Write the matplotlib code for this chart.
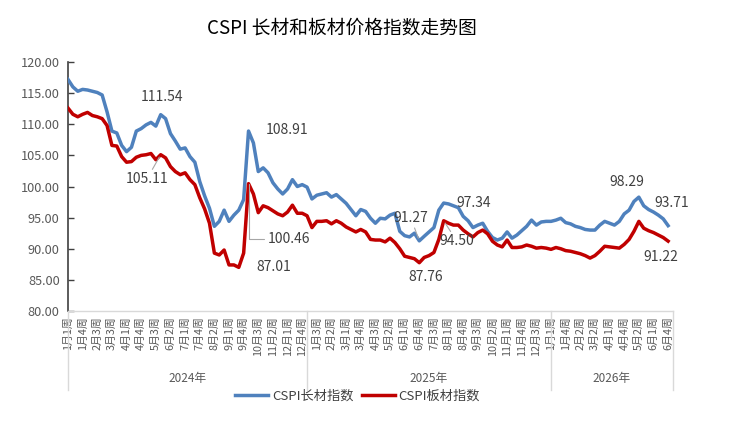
import matplotlib
matplotlib.use('Agg')
import matplotlib.pyplot as plt
from matplotlib.ticker import FormatStrFormatter
from matplotlib.lines import Line2D

plt.rcParams['font.family'] = ['Noto Sans CJK SC', 'DejaVu Sans']

# ---------------- data ----------------
long_index = [
    117.2, 116.0, 115.3, 115.6, 115.5, 115.3, 115.1, 114.7, 112.0, 108.9,
    108.6, 106.6, 105.6, 106.3, 108.9, 109.3, 109.9, 110.3, 109.7, 111.54,
    110.9, 108.5, 107.3, 106.0, 106.2, 104.8, 103.9, 100.8, 98.5, 96.5,
    93.6, 94.4, 96.2, 94.4, 95.4, 96.2, 97.9, 108.91, 107.0, 102.4,
    103.0, 102.2, 100.6, 99.6, 98.8, 99.6, 101.1, 100.0, 100.3, 99.9,
    98.0, 98.6, 98.8, 99.0, 98.3, 98.7, 98.0, 97.3, 96.3, 95.3,
    96.3, 96.0, 94.9, 94.1, 94.9, 94.8, 95.4, 95.7, 92.8, 92.1,
    91.9, 92.5, 91.27, 92.0, 92.7, 93.4, 96.2, 97.34, 97.2, 96.9,
    96.6, 95.2, 94.5, 93.4, 93.8, 94.1, 92.8, 91.8, 91.4, 91.7,
    92.7, 91.7, 92.2, 92.9, 93.6, 94.6, 93.8, 94.3, 94.4, 94.4,
    94.6, 94.9, 94.2, 94.0, 93.6, 93.4, 93.1, 93.0, 93.0, 93.8,
    94.4, 94.1, 93.8, 94.4, 95.6, 96.2, 97.6, 98.29, 96.9, 96.3,
    95.9, 95.4, 94.8, 93.71,
]
plate_index = [
    112.6, 111.6, 111.2, 111.6, 111.9, 111.4, 111.2, 110.9, 109.8, 106.6,
    106.5, 104.8, 103.9, 104.0, 104.7, 105.0, 105.1, 105.3, 104.3, 105.11,
    104.6, 103.2, 102.4, 101.9, 102.2, 101.1, 100.3, 98.2, 96.4, 94.1,
    89.3, 89.0, 89.8, 87.4, 87.4, 87.01, 89.3, 100.46, 98.8, 95.8,
    96.9, 96.6, 96.1, 95.6, 95.3, 95.9, 97.0, 95.7, 95.7, 95.3,
    93.4, 94.4, 94.4, 94.5, 94.0, 94.5, 94.1, 93.5, 93.1, 92.7,
    93.1, 92.7, 91.5, 91.4, 91.4, 91.1, 91.7, 91.0, 90.0, 88.8,
    88.6, 88.4, 87.76, 88.6, 88.9, 89.4, 91.5, 94.50, 94.1, 93.8,
    93.8, 93.0, 92.4, 91.9, 92.6, 93.0, 92.4, 91.2, 90.6, 90.3,
    91.4, 90.2, 90.2, 90.3, 90.6, 90.4, 90.1, 90.2, 90.1, 89.9,
    90.2, 90.0, 89.7, 89.6, 89.4, 89.2, 88.9, 88.5, 88.9, 89.6,
    90.4, 90.3, 90.2, 90.1, 90.7, 91.5, 92.8, 94.4, 93.3, 92.9,
    92.6, 92.2, 91.8, 91.22,
]
tick_labels = [
    '1月1周', '1月4周', '2月3周', '3月3周', '4月1周', '4月4周', '5月3周', '6月2周',
    '7月1周', '7月4周', '8月2周', '9月1周', '9月4周', '10月3周', '11月2周', '12月1周',
    '12月4周',
    '1月3周', '2月2周', '3月1周', '3月4周', '4月3周', '5月2周', '6月1周', '6月4周',
    '7月3周', '8月1周', '8月4周', '9月3周', '10月2周', '11月1周', '11月4周', '12月3周',
    '1月1周', '1月4周', '2月2周', '3月2周', '4月1周', '4月4周', '5月2周', '6月1周',
    '6月4周',
]
years = ['2024年', '2025年', '2026年']
year_weeks = [49, 50, 25]
series_names = ['CSPI长材指数', 'CSPI板材指数']

# annotated points: (series, index, offset x pt, offset y pt, leader)
notes = [
    ('long', 19, 0.7, 12.6, None),
    ('plate', 19, -10, -17.6, 'line'),
    ('long', 37, 28, 0.7, None),
    ('plate', 37, 29.5, -39.6, 'angle'),
    ('plate', 35, 25.5, 0, None),
    ('long', 72, -6, 16.3, 'line'),
    ('long', 77, 21.7, 0, None),
    ('plate', 77, 9.5, -14.8, 'line'),
    ('plate', 72, 4.8, -10.5, None),
    ('long', 117, -8.6, 10.8, None),
    ('long', 123, 2.9, 16, None),
    ('plate', 123, -5, -11.5, None),
]

BLUE = '#4F81BD'
RED = '#C00000'
TXT = '#404040'
GREY = '#595959'

fig = plt.figure(figsize=(7.33, 4.26), dpi=100)
ax = fig.add_axes([68 / 733, 1 - 311 / 426, 605 / 733, 249 / 426])

x = list(range(len(long_index)))
ax.plot(x, long_index, color=BLUE, lw=2.5, solid_joinstyle='round', zorder=3)
ax.plot(x, plate_index, color=RED, lw=2.5, solid_joinstyle='round', zorder=3)

n = len(long_index)
ax.set_xlim(0, sum(year_weeks))
ax.set_ylim(80, 120)
ax.set_yticks(range(80, 121, 5))
ax.yaxis.set_major_formatter(FormatStrFormatter('%.2f'))
ax.tick_params(axis='y', direction='in', length=4, width=1, color=TXT,
               labelcolor=GREY, labelsize=9.2, pad=6)

ax.set_xticks(list(range(0, n, 3)))
ax.set_xticklabels(tick_labels, rotation=90, fontsize=7.8, color=GREY)
ax.tick_params(axis='x', length=0, pad=3.5)

for s in ['top', 'right']:
    ax.spines[s].set_visible(False)
ax.spines['left'].set_color(TXT)
ax.spines['left'].set_linewidth(1.2)
ax.spines['bottom'].set_color('#D9D9D9')
ax.spines['bottom'].set_linewidth(1)

# year group separators and labels
tr = ax.get_xaxis_transform()
bounds = [0]
for w in year_weeks:
    bounds.append(bounds[-1] + w)
for b in bounds:
    ax.plot([b, b], [0, -0.317], transform=tr, clip_on=False,
            color='#D9D9D9', lw=1)
for i, yname in enumerate(years):
    mid = (bounds[i] + bounds[i + 1]) / 2
    ax.text(mid, -0.27, yname, transform=tr, ha='center', va='center',
            fontsize=8.5, color=GREY)

# annotations
data_map = {'long': long_index, 'plate': plate_index}
for ser, idx, dx, dy, leader in notes:
    v = data_map[ser][idx]
    kw = {}
    if leader == 'line':
        kw['arrowprops'] = dict(arrowstyle='-', color='#A6A6A6', lw=0.8,
                                shrinkA=0, shrinkB=2)
    elif leader == 'angle':
        kw['arrowprops'] = dict(arrowstyle='-', color='#A6A6A6', lw=0.8,
                                shrinkA=1, shrinkB=0,
                                connectionstyle='angle,angleA=0,angleB=90,rad=0')
    ax.annotate(f'{v:.2f}', xy=(idx, v), xytext=(dx, dy),
                textcoords='offset points', ha='center', va='center',
                fontsize=10, color=TXT, zorder=4, **kw)

# title
fig.text(342 / 733, 1 - 28 / 426, 'CSPI 长材和板材价格指数走势图',
         ha='center', va='center', fontsize=13.5, color='black')

# legend
handles = [Line2D([0], [0], color=BLUE, lw=2.5),
           Line2D([0], [0], color=RED, lw=2.5)]
fig.legend(handles, series_names, loc='center', bbox_to_anchor=(0.488, 0.07),
           ncol=2, frameon=False, fontsize=9.5, handlelength=2.5,
           handletextpad=0.3, columnspacing=0.6, labelcolor=TXT)

fig.savefig('out.png', dpi=100)
